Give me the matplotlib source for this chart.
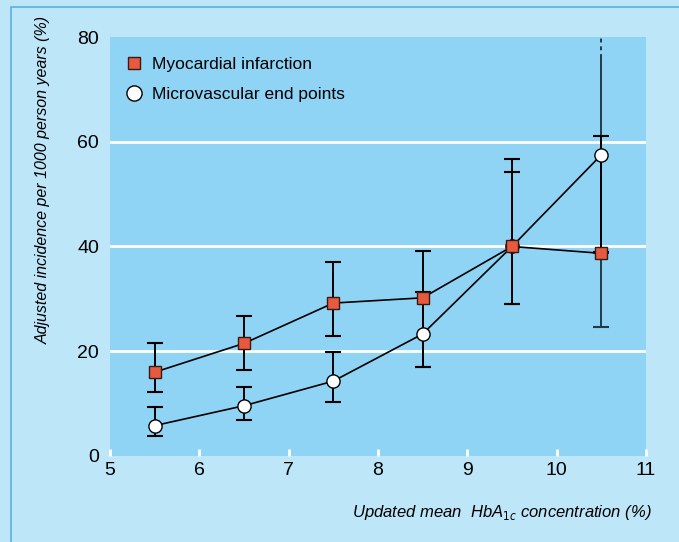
import matplotlib.pyplot as plt
from matplotlib.patches import Rectangle
import numpy as np

plt.rcParams["font.family"] = ["Liberation Sans Narrow", "Liberation Sans", "DejaVu Sans"]
plt.rcParams["font.stretch"] = "condensed"

hba1c = [5.5, 6.5, 7.5, 8.5, 9.5, 10.5]

mi_value = [16.0, 21.5, 29.2, 30.2, 40.0, 38.7]
mi_low = [12.2, 16.5, 23.0, 17.0, 29.1, 24.6]
mi_high = [21.5, 26.8, 37.1, 39.1, 54.2, 90.0]  # last one runs off the top

micro_value = [5.8, 9.6, 14.3, 23.3, 40.0, 57.5]
micro_low = [3.9, 6.8, 10.3, 17.0, 29.1, 38.9]
micro_high = [9.4, 13.1, 19.8, 31.4, 56.8, 61.1]

y_ticks = [0, 20, 40, 60, 80]
x_ticks = [5, 6, 7, 8, 9, 10, 11]

OUTER = "#bee6f9"
INNER = "#8fd3f5"
RED = "#e85a40"

fig = plt.figure(figsize=(6.79, 5.42), dpi=100)
fig.patch.set_facecolor(OUTER)
fig.patches.append(
    Rectangle((11 / 679, -0.01), 0.99, 1 - 7 / 542 + 0.01,
              transform=fig.transFigure, facecolor=OUTER,
              edgecolor="#5ab1e0", linewidth=1.2, zorder=-5)
)

ax = fig.add_axes([110 / 679, 1 - 456 / 542, 536 / 679, 419 / 542])
ax.set_zorder(2)
ax.set_facecolor(INNER)
for s in ax.spines.values():
    s.set_visible(False)

ax.set_xlim(5, 11)
ax.set_ylim(0, 80)
ax.set_xticks(x_ticks)
ax.set_yticks(y_ticks)
ax.tick_params(axis="both", direction="in", color="white", width=2,
               length=5, labelsize=14, pad=4)
ax.tick_params(axis="y", length=0, pad=8)
for g in y_ticks[1:-1]:
    ax.axhline(g, color="white", linewidth=2, zorder=1)

x = np.array(hba1c)
mi_v = np.array(mi_value)
mi_lo = np.array(mi_low)
mi_hi = np.array(mi_high)
mc_v = np.array(micro_value)
mc_lo = np.array(micro_low)
mc_hi = np.array(micro_high)

cap = 5.5
top = ax.get_ylim()[1]
ok = mi_hi < top
ax.errorbar(x[ok], mi_v[ok], yerr=[mi_v[ok] - mi_lo[ok], mi_hi[ok] - mi_v[ok]],
            fmt="none", ecolor="black", elinewidth=1.4, capsize=cap,
            capthick=1.5, zorder=2)
# bars that run past the top of the plot: cap at the bottom, dashed end at the top
for xi, lo, v in zip(x[~ok], mi_lo[~ok], mi_v[~ok]):
    ax.errorbar([xi], [v], yerr=[[v - lo], [0]], fmt="none", ecolor="#233a45",
                elinewidth=1.4, capsize=cap, capthick=1.5, zorder=2)
    ax.plot([xi, xi], [v, top - 4], color="#233a45", linewidth=1.4, zorder=2)
    ax.plot([xi, xi], [top - 4, top], color="#233a45", linewidth=1.4,
            linestyle=(0, (2, 2)), zorder=2)
ax.errorbar(x, mc_v, yerr=[mc_v - mc_lo, mc_hi - mc_v], fmt="none",
            ecolor="black", elinewidth=1.4, capsize=cap, capthick=1.5, zorder=2)

ax.plot(x, mc_v, color="black", linewidth=1.2, marker="o", markersize=9.5,
        markerfacecolor="white", markeredgecolor="black", markeredgewidth=1,
        zorder=3, label="Microvascular end points")
ax.plot(x, mi_v, color="black", linewidth=1.2, marker="s", markersize=8,
        markerfacecolor=RED, markeredgecolor="#3a1a10", markeredgewidth=1,
        zorder=4, label="Myocardial infarction")

handles, labels = ax.get_legend_handles_labels()
leg = ax.legend(handles[::-1], labels[::-1], loc="upper left",
                bbox_to_anchor=(0.0, 0.99), frameon=False, fontsize=12.5,
                handlelength=1.0, handletextpad=0.5, labelspacing=0.85,
                markerscale=1.15)
for h in leg.legend_handles:
    h.set_linestyle("none")

fig.text(43 / 679, 1 - 180 / 542,
         "Adjusted incidence per 1000 person years (%)",
         rotation=90, ha="center", va="center", fontsize=11.5, style="italic")
fig.text(652 / 679, 1 - 512 / 542,
         "Updated mean  HbA$_{1c}$ concentration (%)",
         ha="right", va="center", fontsize=12, style="italic")

fig.savefig("out.png", dpi=100, facecolor=fig.get_facecolor())
plt.close(fig)
